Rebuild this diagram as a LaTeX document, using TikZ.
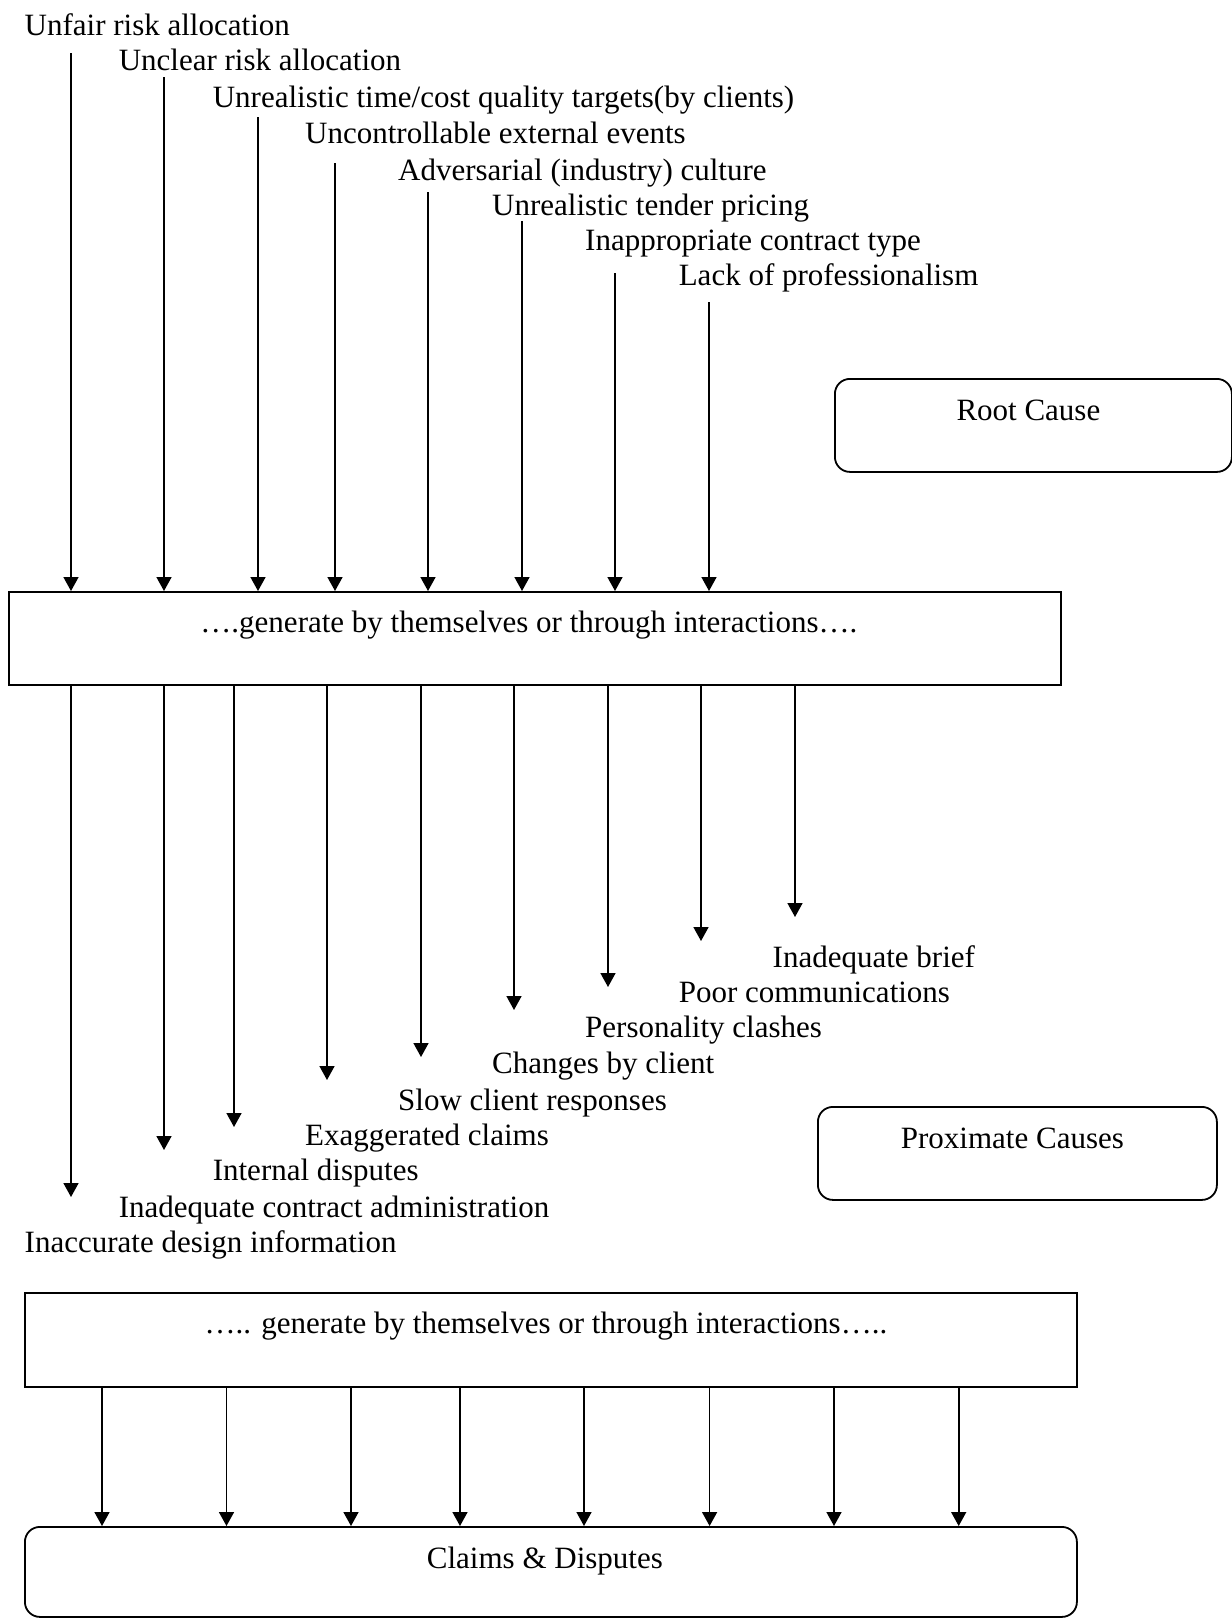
\documentclass[tikz,border=0pt]{standalone}
\usepackage{fontspec}
\setmainfont{Liberation Serif}
\usetikzlibrary{arrows.meta}
\begin{document}
\begin{tikzpicture}[x=1pt,y=-1pt,
  every node/.style={font=\fontsize{31}{36}\selectfont, inner sep=0pt},
  lbl/.style={anchor=base west},
  conn/.style={line width=1.6pt, -{Triangle[length=14pt,width=15pt]}},
  boxsq/.style={draw, line width=1.8pt, anchor=north west},
  boxrd/.style={boxsq, rounded corners=15pt}]

\useasboundingbox (0,0) rectangle (1232,1618);

% boxes
\node[boxsq, minimum width=1052pt, text height=41pt, text depth=52pt] (gen1) at (8,591) {\hspace*{-12pt}….generate by themselves or through interactions….};
\node[boxrd, minimum width=397pt, text height=42pt, text depth=51pt] (root) at (834,378) {\hspace*{-10pt}Root Cause};
\node[boxrd, minimum width=399pt, text height=42pt, text depth=51pt] (prox) at (817,1106) {\hspace*{-10pt}Proximate Causes};
\node[boxsq, minimum width=1052pt, text height=41pt, text depth=53pt] (gen2) at (24,1292) {\hspace*{-10pt}….. generate by themselves or through interactions…..};
\node[boxrd, minimum width=1052pt, text height=42pt, text depth=48pt] (claims) at (24,1526) {\hspace*{-12pt}Claims \& Disputes};

% root causes
\node[lbl] (r1) at (24.5,35) {Unfair risk allocation};
\node[lbl] (r2) at (118.6,70) {Unclear risk allocation};
\node[lbl] (r3) at (212.6,107) {Unrealistic time/cost quality targets(by clients)};
\node[lbl] (r4) at (305,143) {Uncontrollable external events};
\node[lbl] (r5) at (398,180) {Adversarial (industry) culture};
\node[lbl] (r6) at (492,215) {Unrealistic tender pricing};
\node[lbl] (r7) at (585,250) {Inappropriate contract type};
\node[lbl] (r8) at (678.6,285) {Lack of professionalism};

\coordinate (a1) at (71,53);
\coordinate (a2) at (164,77);
\coordinate (a3) at (258,117);
\coordinate (a4) at (335,163);
\coordinate (a5) at (428,192);
\coordinate (a6) at (522,221);
\coordinate (a7) at (615,273);
\coordinate (a8) at (709,302);
\foreach \i in {1,...,8}{
  \draw[conn] (a\i) -- (a\i |- gen1.north);
}

% proximate causes
\node[lbl] (p9) at (772.5,967) {Inadequate brief};
\node[lbl] (p8) at (678.6,1002) {Poor communications};
\node[lbl] (p7) at (585,1037) {Personality clashes};
\node[lbl] (p6) at (492,1073) {Changes by client};
\node[lbl] (p5) at (398,1110) {Slow client responses};
\node[lbl] (p4) at (305,1145) {Exaggerated claims};
\node[lbl] (p3) at (212.6,1180) {Internal disputes};
\node[lbl] (p2) at (118.6,1217) {Inadequate contract administration};
\node[lbl] (p1) at (24.5,1252) {Inaccurate design information};

\coordinate (b1) at (71,1197);
\coordinate (b2) at (164,1150);
\coordinate (b3) at (234,1127);
\coordinate (b4) at (327,1080);
\coordinate (b5) at (421,1057);
\coordinate (b6) at (514,1010);
\coordinate (b7) at (608,987);
\coordinate (b8) at (701,941);
\coordinate (b9) at (795,917);
\foreach \i in {1,...,9}{
  \draw[conn] (b\i |- gen1.south) -- (b\i);
}

% bottom arrows
\coordinate (c1) at (102,1450);
\coordinate (c2) at (226.5,1450);
\coordinate (c3) at (351,1450);
\coordinate (c4) at (460,1450);
\coordinate (c5) at (584,1450);
\coordinate (c6) at (709.6,1450);
\coordinate (c7) at (834,1450);
\coordinate (c8) at (958.7,1450);
\foreach \i in {1,...,8}{
  \draw[conn] (c\i |- gen2.south) -- (c\i |- claims.north);
}
\end{tikzpicture}
\end{document}
